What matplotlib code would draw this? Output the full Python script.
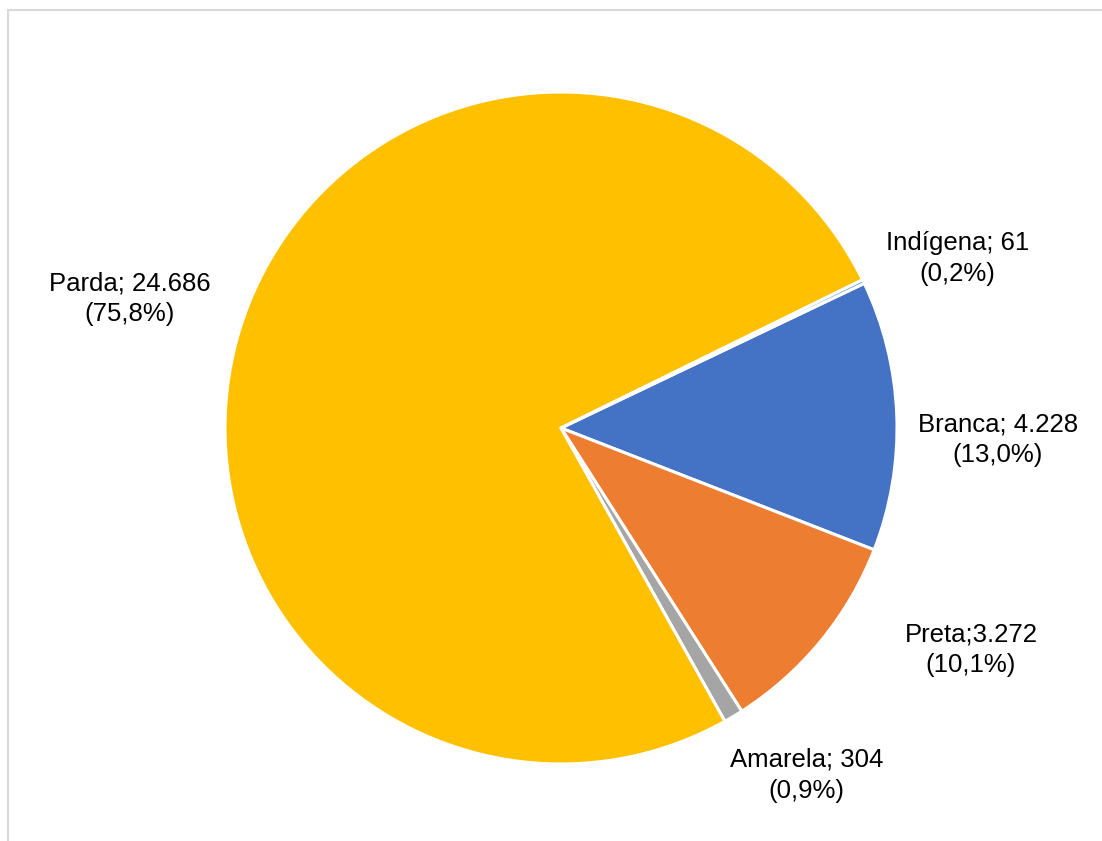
import matplotlib
matplotlib.use("Agg")
import matplotlib.pyplot as plt
from matplotlib.patches import Rectangle

plt.rcParams['font.family'] = ['Liberation Sans', 'DejaVu Sans']

# data (clockwise order, as in the original chart)
categorias = ["Branca", "Preta", "Amarela", "Parda", "Indígena"]
valores = [4228, 3272, 304, 24686, 61]
separadores = ["; ", ";", "; ", "; ", "; "]
cores = ["#4472C4", "#ED7D31", "#A5A5A5", "#FFC000", "#5B9BD5"]

# label centres in units of the pie radius
pos_rotulos = [(1.30, -0.035), (1.22, -0.66), (0.73, -1.033), (-1.283, 0.385), (1.18, 0.505)]


def fmt_milhar(v):
    return f"{v:,}".replace(",", ".")


total = sum(valores)
rotulos = []
for nome, v, sep in zip(categorias, valores, separadores):
    pct = f"{100 * v / total:.1f}".replace(".", ",")
    rotulos.append(f"{nome}{sep}{fmt_milhar(v)}\n({pct}%)")

fig = plt.figure(figsize=(11.02, 8.41), dpi=100)
ax = fig.add_axes([0, 0, 1, 1])

r_px = 336
cx, cy = 561, 428

ax.pie(valores, colors=cores, startangle=25.5, counterclock=False,
       radius=1, center=(0, 0), frame=True,
       wedgeprops=dict(edgecolor='white', linewidth=2.2))
ax.set_xlim(-cx / r_px, (1102 - cx) / r_px)
ax.set_ylim(-(841 - cy) / r_px, cy / r_px)
ax.set_aspect('equal')
ax.axis('off')

for txt, (x, y) in zip(rotulos, pos_rotulos):
    ax.text(x, y, txt, ha='center', va='center', fontsize=18.5,
            linespacing=1.38, color='#000000')

# light chart border
fig.patches.append(Rectangle((7.5 / 1102, -0.1), 1.2, (841 - 9.5) / 841 + 0.1,
                             transform=fig.transFigure, fill=False,
                             edgecolor='#D9D9D9', linewidth=1.5))

fig.savefig("out.png", dpi=100)
